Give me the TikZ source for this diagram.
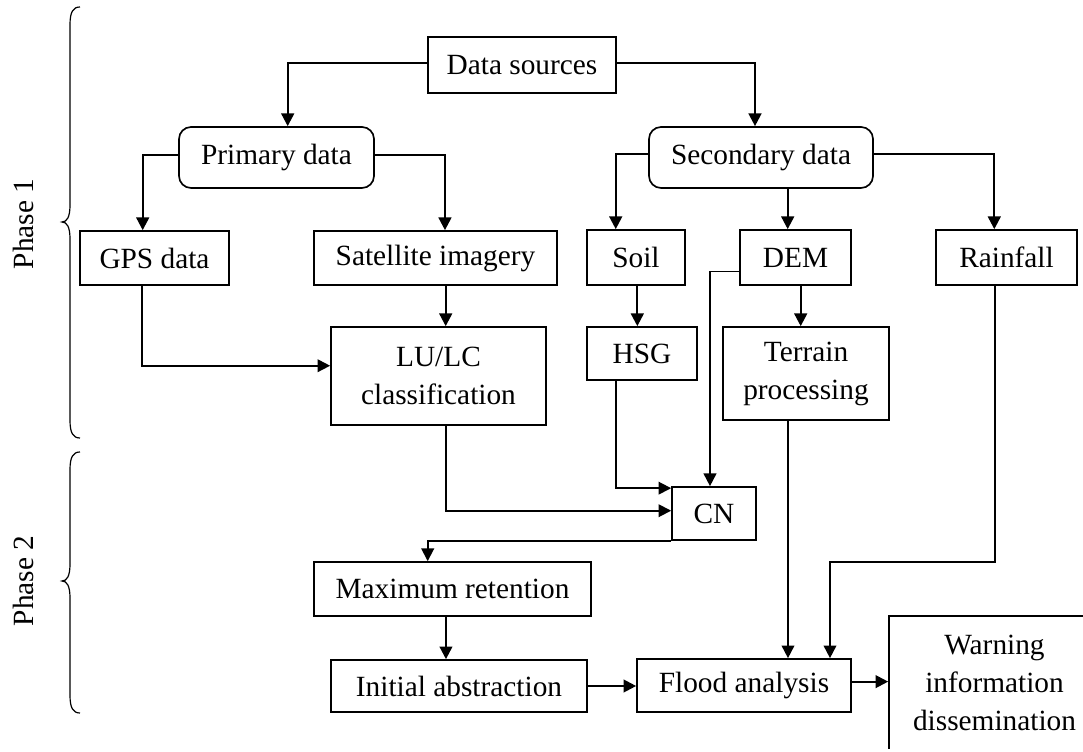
\documentclass[tikz,border=0pt]{standalone}
\usepackage{fontspec}
\setmainfont{Liberation Serif}
\usetikzlibrary{arrows.meta,calc}
\begin{document}
\begin{tikzpicture}[x=0.75pt,y=-0.75pt,
  every node/.style={font=\fontsize{22}{28.5}\selectfont},
  box/.style={draw,line width=1.25pt,inner sep=0pt,align=center},
  rbox/.style={box,rounded corners=9pt},
  arr/.style={line width=1.7pt,-{Triangle[length=9.5pt,width=9.5pt]}},
  tarr/.style={line width=1.3pt,-{Triangle[length=9.5pt,width=9.5pt]}},
  brc/.style={line width=0.9pt}]
\useasboundingbox (0,0) rectangle (1083,752);
\clip (0,0) rectangle (1083,748.5);
% nodes
\node[box,minimum width=141pt,minimum height=42pt] (ds) at (522,65) {Data sources};
\node[rbox,minimum width=146.25pt,minimum height=45.75pt] (prim) at (276.5,157.5) {Primary data};
\node[rbox,minimum width=168pt,minimum height=45.75pt] (sec) at (761,157.5) {Secondary data};
\node[box,minimum width=111.75pt,minimum height=40.5pt] (gps) at (154.5,258) {GPS data};
\node[box,minimum width=182.25pt,minimum height=40.5pt] (sat) at (435.5,258) {Satellite imagery};
\node[box,minimum width=73.5pt,minimum height=41.25pt] (soil) at (636,257.5) {Soil};
\node[box,minimum width=83.25pt,minimum height=41.25pt] (dem) at (795.5,257.5) {DEM};
\node[box,minimum width=105.75pt,minimum height=41.25pt] (rain) at (1006.5,257.5) {Rainfall};
\node[box,minimum width=161.25pt,minimum height=73.5pt] (lulc) at (438.5,376) {LU/LC\\classification};
\node[box,minimum width=82.5pt,minimum height=39.75pt] (hsg) at (642,353.5) {HSG};
\node[box,minimum width=124.5pt,minimum height=69.75pt] (terr) at (806,373.5) {Terrain\\processing};
\node[box,minimum width=63pt,minimum height=39.75pt] (cn) at (714,513.5) {CN};
\node[box,minimum width=207.75pt,minimum height=40.5pt] (maxr) at (452.5,589) {Maximum retention};
\node[box,minimum width=192pt,minimum height=39pt] (init) at (459,686) {Initial abstraction};
\node[box,minimum width=160.5pt,minimum height=39.75pt] (flood) at (744,685.5) {Flood analysis};
\node[box,minimum width=158.25pt,minimum height=100.5pt] (warn) at (994.5,683) {Warning\\information\\dissemination};
% phase labels
\node[rotate=90] (p1) at (23,224) {Phase 1};
\node[rotate=90] (p2) at (23,581) {Phase 2};
% braces
\draw[brc] (80,7) .. controls (73,7) and (70,12) .. (70,25) -- (70,205)
  .. controls (70,217) and (67,222) .. (62,222)
  .. controls (67,222) and (70,227) .. (70,239) -- (70,420)
  .. controls (70,433) and (73,438) .. (80,438);
\draw[brc] (80,452) .. controls (73,452) and (70,457) .. (70,470) -- (70,564)
  .. controls (70,576) and (67,581) .. (62,581)
  .. controls (67,581) and (70,586) .. (70,598) -- (70,695)
  .. controls (70,708) and (73,713) .. (80,713);
% connectors
\draw[arr] ([yshift=1.5pt]ds.west) -| ([xshift=8.4pt]prim.north);
\draw[arr] ([yshift=1.5pt]ds.east) -| ([xshift=-4.5pt]sec.north);
\draw[arr] ([yshift=1.9pt]prim.west) -| ([xshift=-8.85pt]gps.north);
\draw[arr] ([yshift=1.9pt]prim.east) -| ([xshift=7.1pt]sat.north);
\draw[arr] ([yshift=2.6pt]sec.west) -| ([xshift=-15.2pt]soil.north);
\draw[arr] ([xshift=-5.85pt]dem.north |- sec.south) -- ([xshift=-5.85pt]dem.north);
\draw[arr] ([yshift=2.6pt]sec.east) -| ([xshift=-9.15pt]rain.north);
\draw[arr] ([xshift=5.4pt]lulc.north |- sat.south) -- ([xshift=5.4pt]lulc.north);
\draw[tarr] ([xshift=-9.15pt]gps.south) |- ([yshift=7.7pt]lulc.west);
\draw[arr] ([xshift=1pt]soil.south) -- ([xshift=1pt]soil.south |- hsg.north);
\draw[arr] ([xshift=3.9pt]dem.south) -- ([xshift=3.9pt]dem.south |- terr.north);
\draw[tarr] ([yshift=-10.6pt]dem.west) -| ([xshift=-3pt]cn.north);
\draw[tarr] ([xshift=-19.7pt]hsg.south) |- ([yshift=-1.5pt]cn.north west);
\draw[tarr] ([xshift=5.6pt]lulc.south) |- ([yshift=2.1pt]cn.west);
\draw[tarr] (cn.south west) -| ([xshift=-18.6pt]maxr.north);
\draw[arr] ([xshift=-4.9pt]maxr.south) -- ([xshift=-4.9pt]maxr.south |- init.north);
\draw[arr] (init.east) -- (init.east -| flood.west);
\draw[tarr] ([xshift=-13.5pt]terr.south) -- ([xshift=-13.5pt]terr.south |- flood.north);
\coordinate (rb) at (830,562);
\draw[tarr] ([xshift=-8.6pt]rain.south) |- (rb) -- (rb |- flood.north);
\draw[arr] ([yshift=2.9pt]flood.east) -- ([yshift=2.9pt]flood.east -| warn.west);
\end{tikzpicture}
\end{document}
